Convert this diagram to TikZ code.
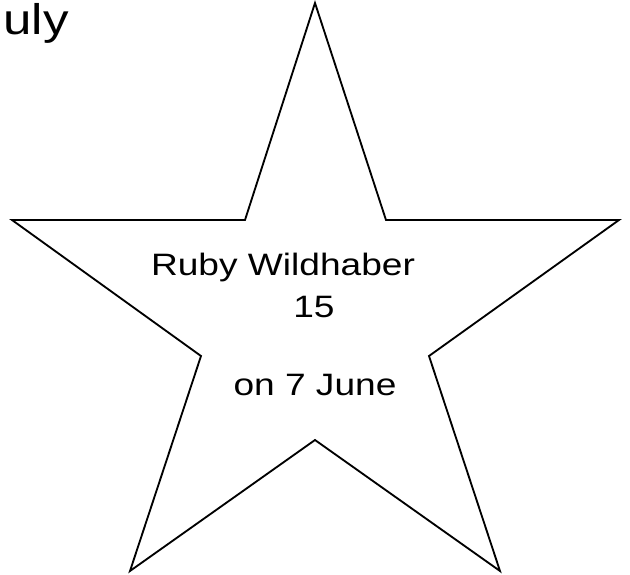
\documentclass[tikz,border=0pt]{standalone}
\usepackage{fontspec}
\setmainfont{Liberation Sans}
\usetikzlibrary{positioning}
\definecolor{starink}{HTML}{000000}

\begin{document}
\begin{tikzpicture}[x=0.02cm,y=-0.02cm]
    \tikzstyle{wish}=[anchor=base,inner sep=0pt,text=starink,font=\fontsize{17.6}{21}\selectfont]
    \useasboundingbox (0,0) rectangle (630,575);
    % star outline
    \coordinate (top) at (315,3);
    \coordinate (innertr) at (386,220);
    \coordinate (right) at (619,220);
    \coordinate (innerr) at (429,356);
    \coordinate (botr) at (500,571);
    \coordinate (innerb) at (315,440);
    \coordinate (botl) at (130,571);
    \coordinate (innerl) at (201,356);
    \coordinate (left) at (12,220);
    \coordinate (innertl) at (245,220);
    \draw[starink,line width=1.05pt] (top) -- (innertr) -- (right) -- (innerr) -- (botr) -- (innerb) -- (botl) -- (innerl) -- (left) -- (innertl) -- cycle;
    \node[wish] (name) at (283,275) {\scalebox{1.2}[1]{Ruby Wildhaber}};
    \node[wish] (age) at (314,317) {\scalebox{1.2}[1]{15}};
    \node[wish] (date) at (315,395) {\scalebox{1.2}[1]{on 7 June}};
    \node[wish,anchor=base west,font=\fontsize{24.4}{29}\selectfont] (month) at (3,34) {\scalebox{1.19}[1]{uly}};
\end{tikzpicture}
\end{document}
